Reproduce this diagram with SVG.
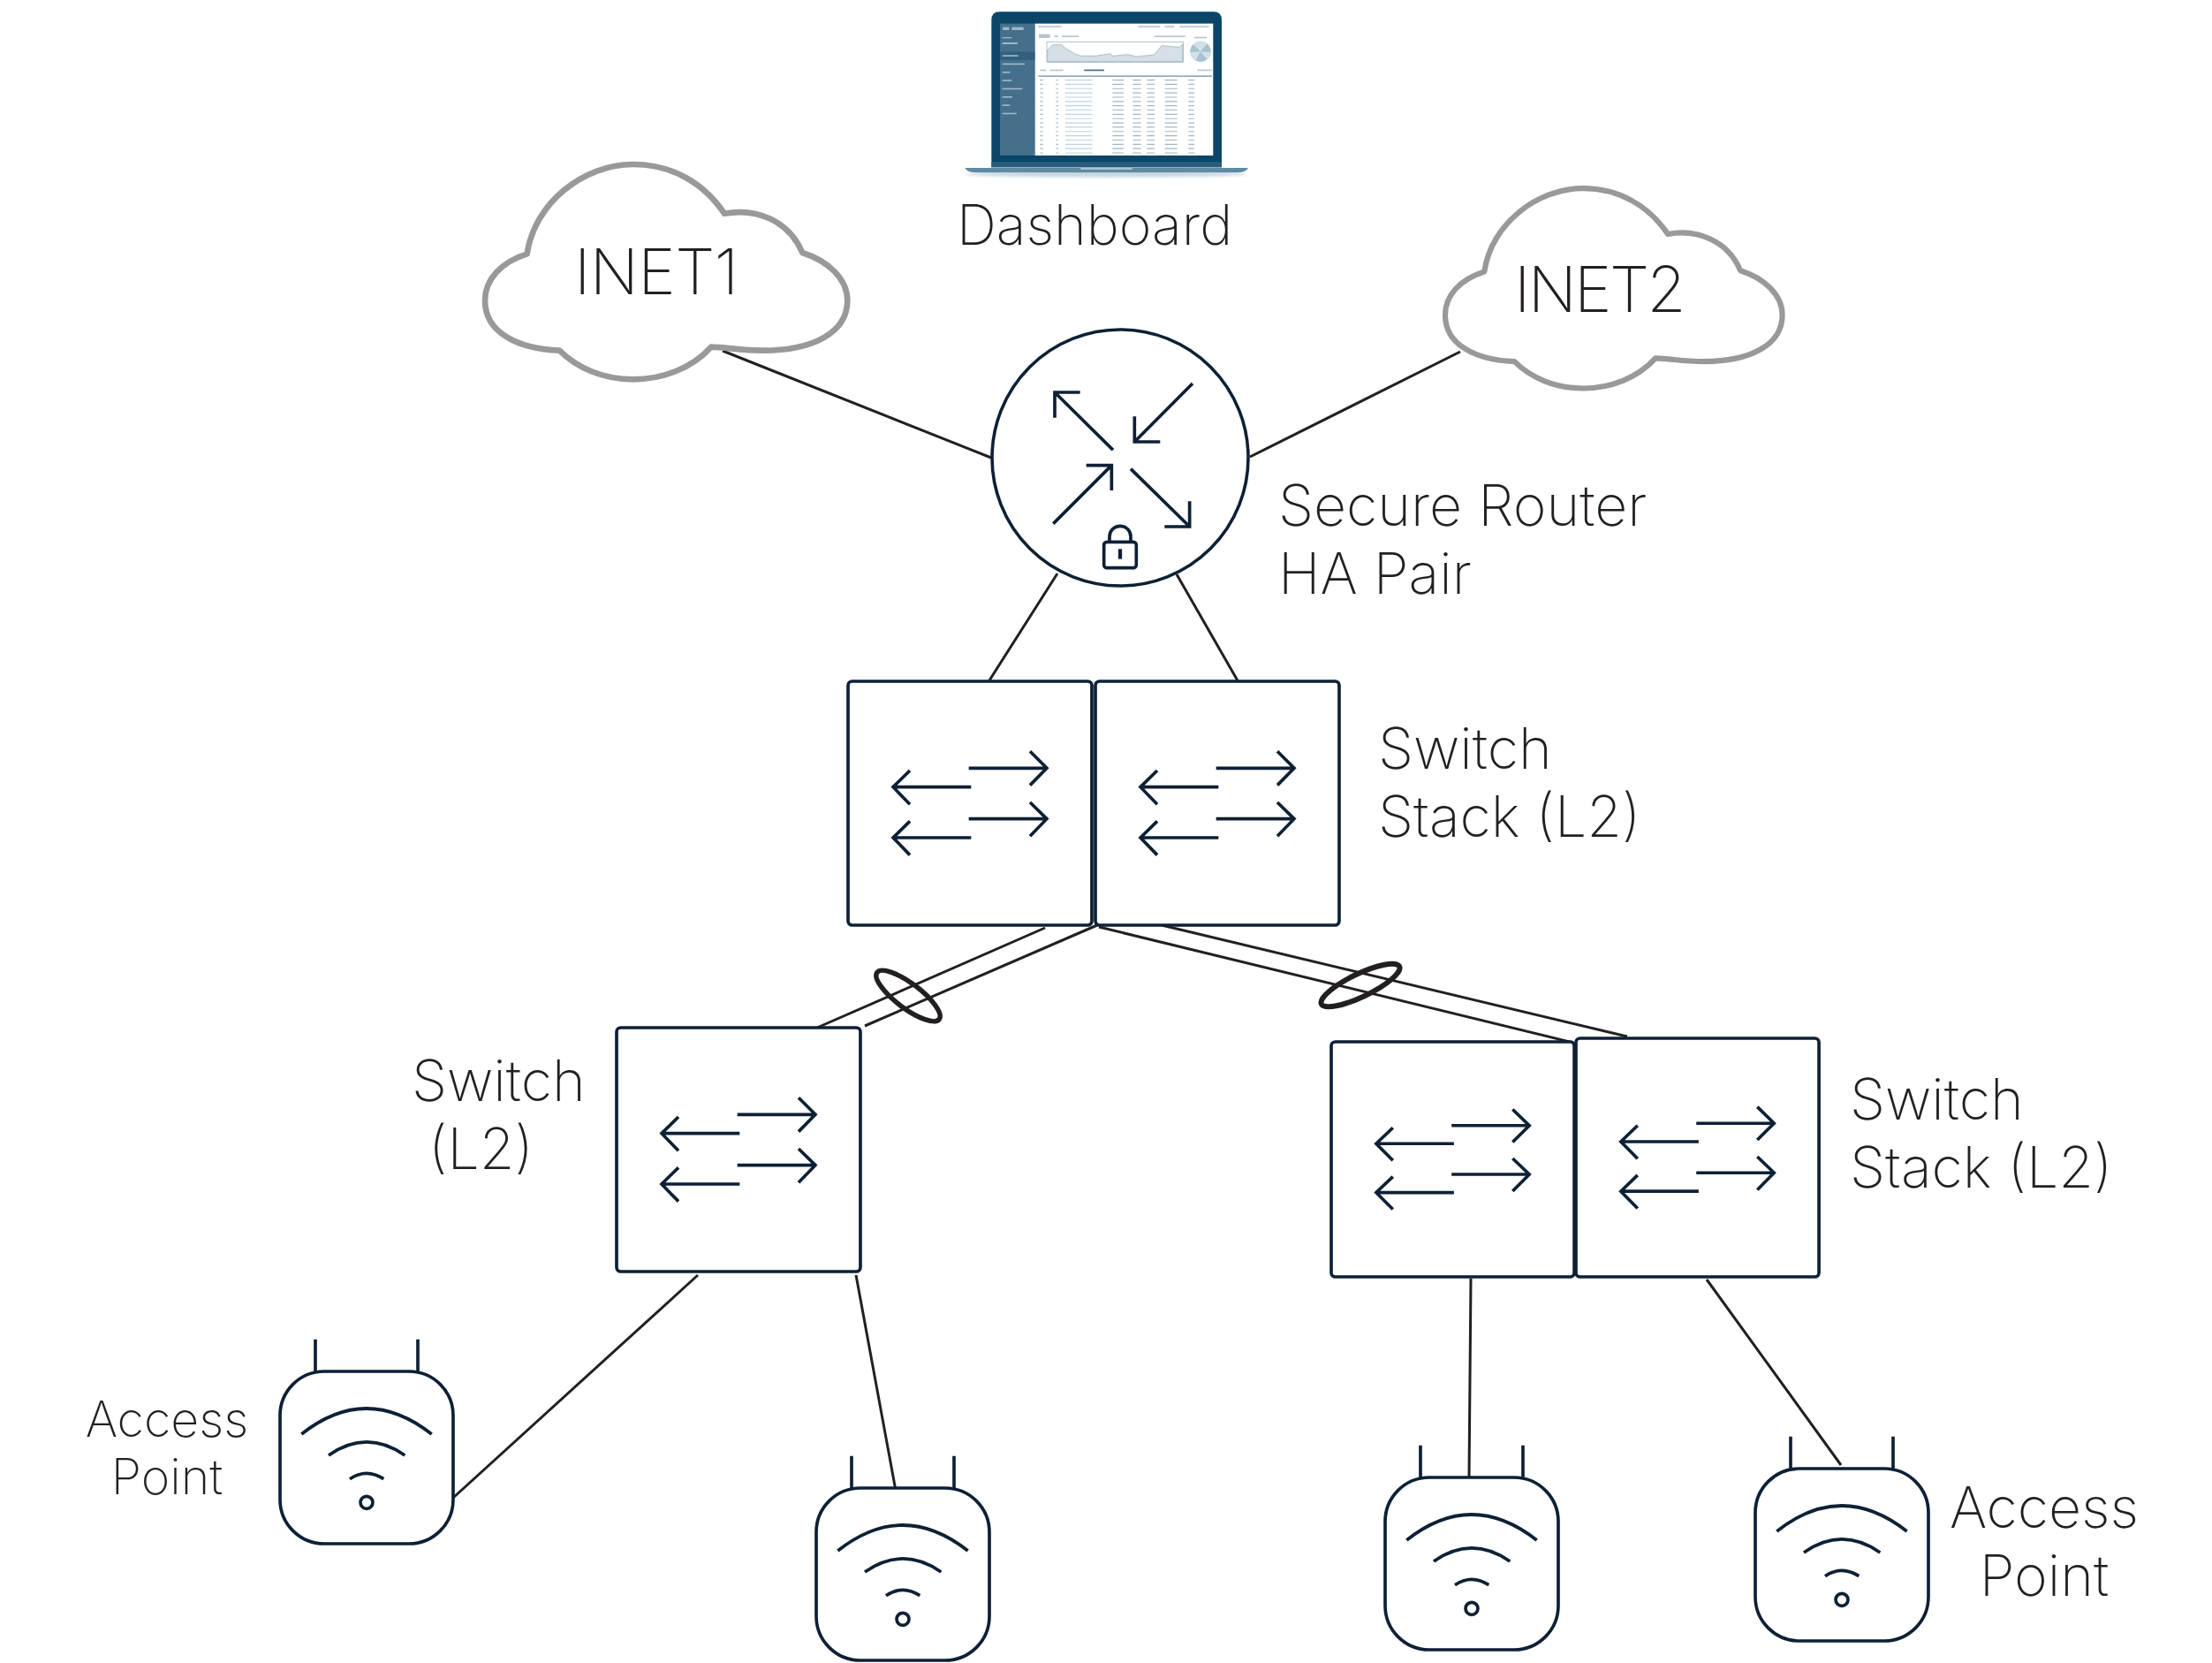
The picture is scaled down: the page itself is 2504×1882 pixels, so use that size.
<svg xmlns="http://www.w3.org/2000/svg" xmlns:xlink="http://www.w3.org/1999/xlink" width="2504" height="1882" viewBox="0 0 2504 1882">
<style>
text{font-family:Inter,"Liberation Sans",sans-serif;font-weight:200;fill:#231f20}
.t64{font-size:64.4px}.t62{font-size:62.6px}.t70{font-size:72px}.t55{font-size:55.5px}
.conn{fill:none;stroke:#231f20;stroke-width:3}
.ic{fill:none;stroke:#0d2035;stroke-width:11}
.cl{fill:#fff;stroke:#999;stroke-width:20;stroke-linejoin:round}
.lag{fill:none;stroke:#231f20;stroke-width:5.5}
.col{fill:none;stroke-dasharray:3.5 11.05}
</style>
<defs>
<filter id="blur" x="-20%" y="-200%" width="140%" height="500%"><feGaussianBlur stdDeviation="4"/></filter>
<path id="cloudShape" class="cl" d="M230 382C255 210 420 78 590 78C720 78 830 140 900 245C1010 225 1120 270 1165 378C1250 405 1318 465 1318 540C1318 650 1200 710 1030 710C960 710 910 700 855 698C790 770 690 808 590 808C490 808 400 770 340 710C200 705 87 650 87 540C87 470 140 410 230 382Z"/>
<g id="switchIcon">
<rect class="ic" width="828" height="828" rx="14" style="fill:#fff"/>
<path class="ic" d="M410 295H675M618 238L675 295L618 353M410 467H675M618 411L675 467L618 526M418 359H153M210 303L153 359L210 418M418 531H153M210 475L153 531L210 590"/>
</g>
<g id="apIcon">
<path class="ic" d="M120 -109V0M468 -109V0"/>
<rect class="ic" style="fill:#fff" width="588" height="585" rx="150"/>
<path class="ic" d="M73 213Q293 39 515 213M165 285Q294 195 424 285M237 365Q294 327 352 365"/>
<circle class="ic" cx="294" cy="445" r="21"/>
</g>
</defs>
<rect width="2504" height="1882" fill="#fff"/>

<g id="connectors">
<path class="conn" d="M818 397L1122 518M1653 398L1415 517M1197 649L1120 770M1332 650L1402 772"/>
<path class="conn" d="M1183 1050L925 1163M1242 1047L979 1161M1244 1049L1781 1180M1315 1047L1842 1173"/>
<path class="conn" d="M790 1443L513 1695M969 1443L1014 1687M1665 1447L1663 1672M1932 1448L2084 1658"/>
<ellipse class="lag" cx="1028" cy="1127" rx="44" ry="14" transform="rotate(37 1028 1127)"/>
<ellipse class="lag" style="stroke-width:6" cx="1540" cy="1115" rx="49" ry="13" transform="rotate(-25.6 1540 1115)"/>
</g>

<g id="dashboard">
<g transform="translate(1060 0) scale(.3333)">
<ellipse cx="578" cy="592" rx="480" ry="10" fill="#c9d8e2" filter="url(#blur)"/>
<path d="M187 568V68Q187 40 215 40H941Q969 40 969 68V568Z" fill="#0b4669"/>
<rect x="216" y="80" width="119" height="448" fill="#44708c"/>
<rect x="335" y="80" width="605" height="448" fill="#fff"/>
<rect x="187" y="550" width="782" height="18" fill="#2a5d7d"/>
<path d="M97 570H1059Q1052 586 1020 586H136Q104 586 97 570Z" fill="#5f8aa3"/>
<rect x="490" y="570" width="175" height="6" fill="#a9c3d2"/>
<rect x="217" y="176" width="117" height="28" fill="#335f7d"/>
<g fill="#9db8c9">
<rect x="225" y="92" width="22" height="10"/><rect x="256" y="92" width="40" height="10"/>
<rect x="224" y="126" width="32" height="4"/><rect x="224" y="144" width="52" height="6"/>
<rect x="224" y="187" width="54" height="5"/><rect x="224" y="215" width="76" height="5"/>
<rect x="224" y="243" width="26" height="5"/><rect x="224" y="271" width="32" height="5"/>
<rect x="224" y="299" width="68" height="5"/><rect x="224" y="327" width="34" height="5"/>
<rect x="224" y="355" width="26" height="5"/><rect x="224" y="383" width="48" height="5"/>
</g>
<g fill="#b4c6d2">
<rect x="345" y="88" width="80" height="5"/><rect x="685" y="88" width="75" height="5"/><rect x="776" y="88" width="32" height="5"/><rect x="826" y="88" width="100" height="5"/>
<rect x="348" y="116" width="38" height="13"/><rect x="400" y="121" width="14" height="5"/><rect x="426" y="121" width="58" height="5"/>
<rect x="740" y="121" width="105" height="5"/><rect x="876" y="125" width="42" height="5"/>
<rect x="352" y="236" width="20" height="5"/><rect x="386" y="236" width="45" height="5"/><rect x="886" y="236" width="50" height="5"/>
</g>
<rect x="502" y="236" width="68" height="5" fill="#3f6a86"/>
<rect x="375" y="143" width="464" height="68" fill="#fff" stroke="#8fa7b6" stroke-width="2"/>
<path d="M377 209V170L395 152L425 152L440 165L470 182L490 190L540 190L590 182L600 190L650 185L680 192L740 186L765 155L800 158L826 160L836 150V209Z" fill="#d5dfe6" stroke="#8fa7b6" stroke-width="2"/>
<circle cx="897" cy="175" r="35" fill="#a9c2d1"/>
<path d="M897 175L872 150A35 35 0 0 1 920 148ZM897 175L862 178A35 35 0 0 0 880 205ZM897 175L932 178A35 35 0 0 1 920 202Z" fill="#d4e0e7"/>
<g stroke="#a3b6c3">
<line class="col" x1="357" y1="270" x2="357" y2="526" stroke-width="10"/>
<line class="col" x1="410" y1="270" x2="410" y2="526" stroke-width="7"/>
<line class="col" x1="617" y1="270" x2="617" y2="526" stroke-width="38"/>
<line class="col" x1="681" y1="270" x2="681" y2="526" stroke-width="28"/>
<line class="col" x1="728" y1="270" x2="728" y2="526" stroke-width="26"/>
<line class="col" x1="797" y1="270" x2="797" y2="526" stroke-width="42"/>
<line class="col" x1="866" y1="270" x2="866" y2="526" stroke-width="20"/>
</g>
<line class="col" x1="484" y1="270" x2="484" y2="526" stroke-width="92" stroke="#bcd4e3"/>
<rect x="346" y="256" width="590" height="5" fill="#93a8b6"/>
</g>
<text class="t62" x="1083" y="277">Dashboard</text>
</g>

<g id="inet1">
<use href="#cloudShape" transform="translate(520 160) scale(.3333)"/>
<text class="t70" x="650" y="333" letter-spacing="-.6">INET1</text>
</g>
<g id="inet2">
<use href="#cloudShape" transform="translate(1609 189) scale(.31)"/>
<text class="t70" x="1714" y="353" letter-spacing="-2.7">INET2</text>
</g>

<g id="router">
<circle cx="1268" cy="518" r="145" fill="#fff" stroke="#0d2035" stroke-width="3.6"/>
<g transform="translate(1100 360) scale(.3333)">
<path class="ic" d="M480 448L282 252M282 338V252H368M750 222L553 420M553 334V420H640M277 698L475 500M389 500H475V585M540 512L740 708M740 622V708H655"/>
<rect class="ic" x="449" y="760" width="110" height="88" rx="10"/>
<path class="ic" d="M468 760V742A36 36 0 0 1 540 742V760"/>
<path class="ic" style="stroke-width:13" d="M504 784V818"/>
</g>
<text class="t64"><tspan x="1447" y="594.5">Secure Router</tspan><tspan x="1447" y="671.5">HA Pair</tspan></text>
</g>

<g id="stack-top">
<use href="#switchIcon" transform="translate(960 771) scale(.3333)"/>
<use href="#switchIcon" transform="translate(1240 771) scale(.3333)"/>
<text class="t64"><tspan x="1560" y="870">Switch</tspan><tspan x="1560" y="947">Stack (L2)</tspan></text>
</g>

<g id="switch-left">
<use href="#switchIcon" transform="translate(698 1163) scale(.3333)"/>
<text class="t64"><tspan x="466" y="1246">Switch</tspan><tspan x="485" y="1323">(L2)</tspan></text>
</g>

<g id="stack-right">
<use href="#switchIcon" transform="translate(1507 1179) scale(.3322 .3213)"/>
<use href="#switchIcon" transform="translate(1784 1175) scale(.3322 .3261)"/>
<text class="t64"><tspan x="2094" y="1267">Switch</tspan><tspan x="2094" y="1344">Stack (L2)</tspan></text>
</g>

<g id="ap1">
<use href="#apIcon" transform="translate(317 1552) scale(.3333)"/>
<text class="t55" text-anchor="middle"><tspan x="189" y="1626">Access</tspan><tspan x="189" y="1691">Point</tspan></text>
</g>
<g id="ap2"><use href="#apIcon" transform="translate(924 1684) scale(.3333)"/></g>
<g id="ap3"><use href="#apIcon" transform="translate(1568 1672) scale(.3333)"/></g>
<g id="ap4">
<use href="#apIcon" transform="translate(1987 1662) scale(.3333)"/>
<text class="t64" text-anchor="middle"><tspan x="2314" y="1729">Access</tspan><tspan x="2314" y="1806">Point</tspan></text>
</g>
</svg>
